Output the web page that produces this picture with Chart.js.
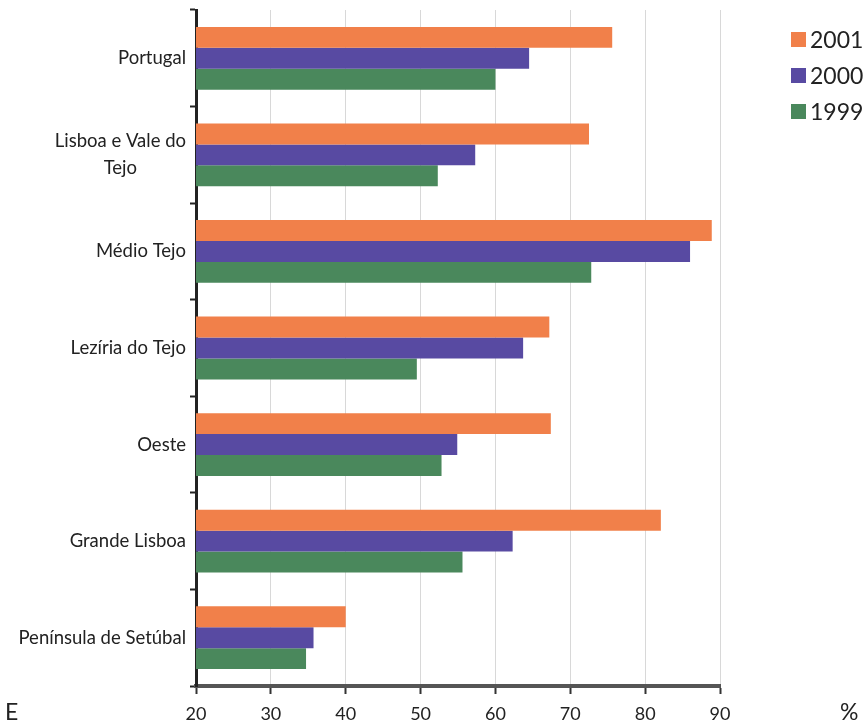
<!DOCTYPE html>
<html>
<head>
<meta charset="utf-8">
<script src="https://cdn.jsdelivr.net/npm/chart.js@4"></script>
<style>
  html, body { margin: 0; padding: 0; background: #fff; }
  #wrap { position: relative; width: 867px; height: 728px; font-family: Lato, sans-serif; color: #222; }
  #legend { position: absolute; left: 791px; top: 21px; }
  .leg-item { display: flex; align-items: center; height: 36px; font-size: 23px; }
  .leg-box { width: 15px; height: 15px; margin-right: 4px; }
  .corner { position: absolute; top: 697px; font-size: 23px; }
</style>
</head>
<body>
<div id="wrap">
  <canvas id="regionChart" width="867" height="728"></canvas>
  <div id="legend"></div>
  <div class="corner" style="left:5px">E</div>
  <div class="corner" style="left:840px">%</div>
</div>
<script>
// Regions (top to bottom)
const regions = [
    'Portugal',
    ['Lisboa e Vale do', 'Tejo'],
    'Médio Tejo',
    'Lezíria do Tejo',
    'Oeste',
    'Grande Lisboa',
    'Península de Setúbal'
];

// Values in % per year
const values2001 = [75.6, 72.5, 88.9, 67.2, 67.4, 82.1, 40.0];
const values2000 = [64.5, 57.3, 86.0, 63.7, 54.9, 62.3, 35.7];
const values1999 = [60.0, 52.3, 72.8, 49.5, 52.8, 55.6, 34.7];

const years = ['2001', '2000', '1999'];
const xTicks = [20, 30, 40, 50, 60, 70, 80, 90];

const colors = {
    '2001': 'rgb(241, 128, 74)',
    '2000': 'rgb(88, 74, 162)',
    '1999': 'rgb(74, 136, 92)'
};

const seriesByYear = { '2001': values2001, '2000': values2000, '1999': values1999 };

// Draw category labels so multi-line labels are centred as a block
const yLabelPlugin = {
    id: 'yLabels',
    afterDraw(chart) {
        const scale = chart.scales.y;
        const ctx = chart.ctx;
        ctx.save();
        ctx.font = '18.5px Lato, sans-serif';
        ctx.fillStyle = '#222';
        ctx.textAlign = 'center';
        ctx.textBaseline = 'middle';
        const right = scale.right - 10;
        const lineH = 27;
        regions.forEach((label, i) => {
            const lines = Array.isArray(label) ? label : [label];
            const maxW = Math.max(...lines.map(l => ctx.measureText(l).width));
            const cx = right - maxW / 2;
            const cy = scale.getPixelForTick(i);
            lines.forEach((line, j) => {
                ctx.fillText(line, cx, cy + (j - (lines.length - 1) / 2) * lineH);
            });
        });
        ctx.restore();
    }
};

const chart = new Chart(document.getElementById('regionChart'), {
    type: 'bar',
    data: {
        labels: regions,
        datasets: years.map(y => ({
            label: y,
            data: seriesByYear[y],
            backgroundColor: colors[y],
            borderWidth: 0,
            categoryPercentage: 0.65,
            barPercentage: 1.0
        }))
    },
    options: {
        indexAxis: 'y',
        responsive: false,
        animation: false,
        layout: { padding: { top: 10, right: 147, left: 0, bottom: 0 } },
        plugins: {
            legend: { display: false },
            tooltip: { enabled: false }
        },
        scales: {
            x: {
                min: 20,
                max: 90,
                afterBuildTicks: axis => { axis.ticks = xTicks.map(v => ({ value: v })); },
                grid: {
                    color: '#d8d8d8',
                    lineWidth: 1,
                    tickColor: '#333',
                    tickLength: 8,
                    tickWidth: 2
                },
                border: { color: '#555', width: 4 },
                ticks: {
                    color: '#222',
                    font: { family: 'Lato, sans-serif', size: 18 },
                    padding: 9
                },
                afterFit: scale => { scale.height = 42; }
            },
            y: {
                grid: {
                    drawOnChartArea: false,
                    tickColor: '#222',
                    tickLength: 6,
                    tickWidth: 2
                },
                border: { color: '#222', width: 3 },
                ticks: { display: false },
                afterFit: scale => { scale.width = 196; }
            }
        }
    },
    plugins: [yLabelPlugin]
});

// Legend
const legend = document.getElementById('legend');
years.forEach(y => {
    const item = document.createElement('div');
    item.className = 'leg-item';
    item.innerHTML = '<span class="leg-box" style="background:' + colors[y] + '"></span>' + y;
    legend.appendChild(item);
});
</script>
</body>
</html>
